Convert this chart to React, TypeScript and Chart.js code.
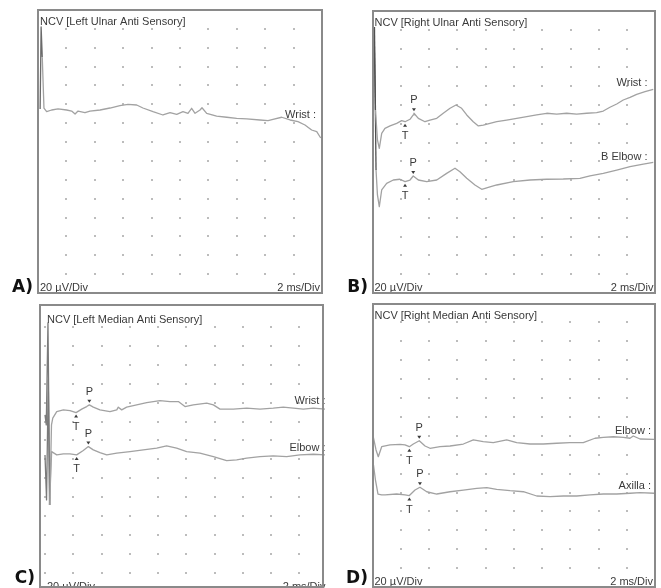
import React, { useEffect, useRef } from "react";
import { Chart, registerables } from "chart.js";

Chart.register(...registerables);

// ---------------- Data ----------------
const X_MAX_MS = 20;
const X_STEP_MS = 2;
const Y_MAX_UV = 300;
const Y_STEP_UV = 20;

const panelTitles = [
  "NCV [Left Ulnar Anti Sensory]",
  "NCV [Right Ulnar Anti Sensory]",
  "NCV [Left Median Anti Sensory]",
  "NCV [Right Median Anti Sensory]",
];
const panelLetters = ["A)", "B)", "C)", "D)"];
const sensitivityLabel = "20 µV/Div";
const sweepLabel = "2 ms/Div";

// Panel A – Left ulnar, Wrist
const aWristMs = [0.15, 0.22, 0.3, 0.42, 0.61, 0.96, 1.41, 2.02, 2.37, 2.61, 2.82, 3.31, 3.66, 4.37, 5.07, 5.77, 6.34, 6.95, 7.39, 8.1, 8.8, 9.3, 9.77, 10.21, 10.56, 10.82, 11.06, 11.41, 11.55, 11.88, 12.58, 13.29, 13.99, 14.7, 15.63, 16.2, 16.55, 17.16, 17.75, 18.31, 18.8, 19.27, 19.63, 19.91];
const aWristUv = [195, 282, 250, 196, 192.2, 194.0, 195.1, 194.0, 192.9, 189.8, 192.9, 191.1, 192.9, 194.0, 196.1, 198.6, 200.0, 199.3, 196.1, 192.2, 188.7, 191.1, 189.4, 192.2, 190.5, 195.8, 190.5, 194.0, 196.4, 190.5, 187.6, 186.3, 185.2, 184.5, 183.4, 182.7, 184.1, 186.3, 183.4, 181.6, 178.1, 172.8, 171.0, 164.3];

// Panel B – Right ulnar, Wrist and B Elbow
const bWristMs = [0.11, 0.21, 0.35, 0.48, 0.65, 0.88, 1.24, 1.71, 2.06, 2.3, 2.65, 2.88, 2.93, 3.24, 3.71, 4.06, 4.54, 5.0, 5.48, 5.9, 6.3, 6.66, 7.12, 7.48, 7.83, 8.3, 8.78, 9.48, 10.19, 10.9, 11.6, 12.31, 13.02, 13.72, 14.43, 15.14, 15.84, 16.31, 16.78, 17.26, 17.72, 18.2, 18.67, 19.26, 19.84];
const bWristUv = [283, 194.7, 162.8, 153.9, 169.9, 175.2, 177.7, 180.5, 183.3, 182.2, 184.8, 189.4, 191.2, 185.8, 182.2, 184.0, 185.8, 191.2, 196.5, 200.0, 196.5, 189.4, 182.2, 177.7, 178.7, 180.5, 182.2, 184.0, 185.8, 187.6, 189.4, 191.2, 190.4, 191.2, 190.4, 191.2, 191.9, 193.6, 197.6, 201.1, 205.3, 208.2, 211.4, 214.1, 216.7];
const bElbowMs = [0.14, 0.25, 0.35, 0.48, 0.65, 1.0, 1.47, 1.94, 2.3, 2.65, 2.88, 3.24, 3.83, 4.54, 5.24, 5.83, 6.18, 6.66, 7.24, 7.72, 8.3, 8.78, 9.95, 11.13, 12.31, 13.48, 14.66, 15.37, 16.31, 17.26, 18.2, 19.14, 19.84];
const bElbowUv = [283, 130.9, 104.3, 91.8, 109.6, 116.7, 120.2, 121.0, 118.4, 120.2, 124.5, 120.2, 118.4, 120.2, 127.3, 132.7, 129.0, 122.0, 114.9, 110.3, 112.8, 114.9, 118.4, 120.2, 121.0, 121.3, 122.0, 124.5, 127.3, 130.8, 134.4, 137.2, 139.0];

// Panel C – Left median, Wrist and Elbow
const cWristMs = [0.0, 0.09, 0.21, 0.34, 0.46, 0.55, 0.83, 1.3, 1.77, 2.2, 2.6, 2.95, 3.14, 3.42, 3.89, 4.6, 5.08, 5.19, 5.43, 5.78, 6.49, 7.2, 8.14, 8.85, 9.44, 9.91, 10.5, 11.45, 11.92, 12.39, 13.33, 14.28, 15.22, 16.16, 16.87, 17.58, 18.29, 19.0, 19.82];
const cWristUv = [187.1, 176.5, 284.6, 91.7, 176.5, 183.6, 190.6, 192.4, 191.7, 189.5, 193.2, 195.9, 197.7, 195.3, 192.4, 190.6, 192.4, 195.3, 192.4, 195.3, 197.7, 200.1, 202.3, 201.2, 201.2, 195.9, 197.7, 199.5, 197.7, 193.2, 193.2, 194.2, 193.2, 194.2, 195.3, 194.2, 193.2, 194.2, 193.2];
const cElbowMs = [0.0, 0.11, 0.23, 0.32, 0.47, 0.83, 1.3, 1.77, 2.24, 2.71, 3.07, 3.42, 3.89, 4.37, 5.08, 6.02, 6.96, 7.91, 8.61, 9.32, 10.03, 10.97, 11.92, 12.86, 13.57, 14.28, 15.22, 16.16, 17.11, 18.05, 19.0, 19.82];
const cElbowUv = [144.7, 97.0, 224.2, 91.7, 148.2, 144.7, 145.8, 145.8, 144.7, 149.3, 153.5, 150.0, 147.1, 144.7, 146.5, 148.2, 150.0, 151.8, 154.2, 151.8, 148.2, 146.5, 142.9, 138.7, 139.4, 141.2, 142.9, 143.6, 142.9, 144.7, 145.4, 144.7];

// Panel D – Right median, Elbow and Axilla
const dElbowMs = [0.04, 0.25, 0.41, 0.65, 1.24, 1.95, 2.3, 2.61, 2.89, 3.31, 3.72, 4.07, 4.78, 5.49, 6.43, 7.14, 7.84, 8.55, 9.5, 10.21, 11.15, 12.09, 13.04, 13.98, 14.92, 15.75, 16.34, 17.05, 17.76, 18.23, 18.46, 18.94, 19.93];
const dElbowUv = [159.8, 145.0, 137.9, 148.5, 150.3, 151.0, 150.3, 148.5, 151.3, 154.8, 149.2, 146.8, 148.5, 149.2, 151.3, 155.6, 153.8, 152.7, 155.6, 152.7, 151.3, 151.3, 152.1, 152.7, 152.7, 157.4, 158.4, 159.0, 158.4, 157.4, 159.8, 156.6, 156.3];
const dAxillaMs = [0.07, 0.21, 0.39, 0.65, 0.89, 1.71, 2.3, 2.61, 3.01, 3.36, 3.84, 4.55, 5.49, 6.43, 7.38, 8.09, 8.79, 9.74, 10.68, 11.63, 12.57, 13.51, 14.46, 15.4, 16.34, 17.29, 18.23, 18.94, 19.93];
const dAxillaUv = [129.1, 113.2, 98.4, 97.4, 97.4, 98.4, 97.4, 96.8, 102.6, 105.5, 100.8, 98.4, 100.8, 102.6, 104.4, 105.1, 103.4, 101.9, 100.8, 96.3, 95.6, 96.3, 96.3, 97.4, 98.4, 98.4, 99.2, 99.8, 99.2];

// Onset (T) and peak (P) markers: [ms, µV]
const bWristT = [2.3, 182.2];
const bWristP = [2.93, 191.2];
const bElbowT = [2.3, 118.4];
const bElbowP = [2.88, 124.5];
const cWristT = [2.2, 189.5];
const cWristP = [3.14, 197.7];
const cElbowT = [2.24, 144.7];
const cElbowP = [3.07, 153.5];
const dElbowT = [2.61, 148.5];
const dElbowP = [3.31, 154.8];
const dAxillaT = [2.61, 96.8];
const dAxillaP = [3.36, 105.5];

// Trace names and the level (µV) at which each name sits
const aTraceNames = ["Wrist :"];
const aNameLevels = [185.5];
const bTraceNames = ["Wrist :", "B Elbow :"];
const bNameLevels = [220.2, 141.5];
const cTraceNames = ["Wrist :", "Elbow :"];
const cNameLevels = [198.8, 148.9];
const dTraceNames = ["Elbow :", "Axilla :"];
const dNameLevels = [161.9, 103.7];

// ---------------- Layout / style ----------------
const CANVAS_W = 661;
const CANVAS_H = 600;
const TEXT_FONT = '11px "Liberation Sans", Arial, Helvetica, sans-serif';
const LETTER_FONT = 'bold 17px "DejaVu Sans", Verdana, sans-serif';
const TEXT_COLOR = "#3a3a3a";
const TRACE_COLOR = "#a2a2a2";
const DOT_COLOR = "#bcbcbc";
const FRAME_COLOR = "#8a8a8a";

type PanelDef = {
  title: string;
  letter: string;
  traces: { ms: number[]; uv: number[] }[];
  names: string[];
  nameLevels: number[];
  markers: { t: number[]; p: number[] }[];
  plot: [number, number, number, number];
  frame: [number, number, number, number];
  letterDy: number;
  labelInset: number;
  zeroColumn: boolean;
  darkUntil: number;
  darkColor: string;
};

const panels: PanelDef[] = [
  {
    title: panelTitles[0], letter: panelLetters[0],
    traces: [{ ms: aWristMs, uv: aWristUv }],
    names: aTraceNames, nameLevels: aNameLevels, markers: [],
    plot: [38, 10, 322, 293], frame: [38, 10, 322, 293],
    letterDy: -1, labelInset: 6, zeroColumn: false, darkUntil: 0.25, darkColor: "#6a6a6a",
  },
  {
    title: panelTitles[1], letter: panelLetters[1],
    traces: [{ ms: bWristMs, uv: bWristUv }, { ms: bElbowMs, uv: bElbowUv }],
    names: bTraceNames, nameLevels: bNameLevels,
    markers: [{ t: bWristT, p: bWristP }, { t: bElbowT, p: bElbowP }],
    plot: [372.5, 11, 655.5, 293], frame: [373, 11, 655, 293],
    letterDy: -1, labelInset: 8, zeroColumn: false, darkUntil: 0.2, darkColor: "#505050",
  },
  {
    title: panelTitles[2], letter: panelLetters[2],
    traces: [{ ms: cWristMs, uv: cWristUv }, { ms: cElbowMs, uv: cElbowUv }],
    names: cTraceNames, nameLevels: cNameLevels,
    markers: [{ t: cWristT, p: cWristP }, { t: cElbowT, p: cElbowP }],
    plot: [45, 308.3, 327.5, 591.5], frame: [40, 305, 323, 587],
    letterDy: -4, labelInset: 2, zeroColumn: true, darkUntil: 0.3, darkColor: "#7a7a7a",
  },
  {
    title: panelTitles[3], letter: panelLetters[3],
    traces: [{ ms: dElbowMs, uv: dElbowUv }, { ms: dAxillaMs, uv: dAxillaUv }],
    names: dTraceNames, nameLevels: dNameLevels,
    markers: [{ t: dElbowT, p: dElbowP }, { t: dAxillaT, p: dAxillaP }],
    plot: [372.5, 303.5, 655, 587], frame: [373, 304, 655, 587],
    letterDy: -4, labelInset: 4, zeroColumn: false, darkUntil: 0, darkColor: "#505050",
  },
];

function triangle(ctx: CanvasRenderingContext2D, x: number, y: number, down: boolean) {
  ctx.beginPath();
  if (down) {
    ctx.moveTo(x, y - 2);
    ctx.lineTo(x - 2, y - 5);
    ctx.lineTo(x + 2, y - 5);
  } else {
    ctx.moveTo(x, y + 2);
    ctx.lineTo(x - 2, y + 5);
    ctx.lineTo(x + 2, y + 5);
  }
  ctx.closePath();
  ctx.fill();
}

const ncvPlugin = {
  id: "ncv",
  beforeDatasetsDraw(chart: any, _args: any, o: any) {
    const { ctx } = chart;
    const xs = chart.scales.x;
    const ys = chart.scales.y;
    ctx.save();
    ctx.fillStyle = DOT_COLOR;
    const start = o.zeroColumn ? 0 : X_STEP_MS;
    for (let v = start; v < X_MAX_MS - 1e-6; v += X_STEP_MS) {
      for (let w = Y_STEP_UV; w < Y_MAX_UV - 1e-6; w += Y_STEP_UV) {
        const px = Math.round(xs.getPixelForValue(v));
        const py = Math.round(ys.getPixelForValue(w));
        ctx.fillRect(px - 1, py - 1, 2, 2);
      }
    }
    ctx.restore();
  },
  afterDatasetsDraw(chart: any, _args: any, o: any) {
    const { ctx, chartArea: ca } = chart;
    const xs = chart.scales.x;
    const ys = chart.scales.y;
    ctx.save();
    ctx.fillStyle = TEXT_COLOR;
    ctx.font = TEXT_FONT;
    ctx.textBaseline = "alphabetic";

    // T / P markers
    ctx.textAlign = "center";
    (o.markers || []).forEach((m: any) => {
      const px = xs.getPixelForValue(m.p[0]);
      const py = ys.getPixelForValue(m.p[1]);
      triangle(ctx, px, py, true);
      ctx.fillText("P", px, py - 10);
      const tx = xs.getPixelForValue(m.t[0]);
      const ty = ys.getPixelForValue(m.t[1]);
      triangle(ctx, tx, ty, false);
      ctx.fillText("T", tx, ty + 17);
    });

    // trace names
    ctx.textAlign = "right";
    (o.names || []).forEach((n: string, i: number) => {
      ctx.fillText(n, ca.right - o.labelInset, ys.getPixelForValue(o.nameLevels[i]));
    });

    // title + scale texts
    ctx.textAlign = "left";
    ctx.fillText(o.title, ca.left + 2, ca.top + 15);
    ctx.fillText(sensitivityLabel, ca.left + 2, ca.bottom - 2);
    ctx.textAlign = "right";
    ctx.fillText(sweepLabel, ca.right - 2, ca.bottom - 2);

    // frame
    const f = o.frame;
    ctx.strokeStyle = FRAME_COLOR;
    ctx.lineWidth = 2;
    ctx.strokeRect(f[0], f[1], f[2] - f[0], f[3] - f[1]);

    // panel letter
    ctx.fillStyle = "#111";
    ctx.font = LETTER_FONT;
    ctx.textAlign = "right";
    ctx.fillText(o.letter, f[0] - 5, f[3] + o.letterDy);
    ctx.restore();
  },
};

function Panel({ def }: { def: PanelDef }) {
  const ref = useRef<HTMLCanvasElement>(null);
  useEffect(() => {
    const [l, t, r, b] = def.plot;
    const chart = new Chart(ref.current as HTMLCanvasElement, {
      type: "line",
      data: {
        datasets: def.traces.map((tr) => ({
          data: tr.ms.map((x, i) => ({ x, y: tr.uv[i] })),
          borderColor: TRACE_COLOR,
          borderWidth: 1.3,
          pointRadius: 0,
          tension: 0,
          fill: false,
          borderJoinStyle: "round" as const,
          clip: false as any,
          segment: {
            borderColor: (c: any) => (c.p0.parsed.x < def.darkUntil ? def.darkColor : undefined),
          },
        })),
      },
      options: {
        animation: false,
        responsive: false,
        devicePixelRatio: 1,
        events: [],
        layout: { padding: { left: l, top: t, right: CANVAS_W - r, bottom: CANVAS_H - b } },
        scales: {
          x: { type: "linear", min: 0, max: X_MAX_MS, display: false, ticks: { stepSize: X_STEP_MS } },
          y: { type: "linear", min: 0, max: Y_MAX_UV, display: false, ticks: { stepSize: Y_STEP_UV } },
        },
        plugins: {
          legend: { display: false },
          tooltip: { enabled: false },
          ncv: {
            title: def.title,
            letter: def.letter,
            names: def.names,
            nameLevels: def.nameLevels,
            markers: def.markers,
            frame: def.frame,
            letterDy: def.letterDy,
            labelInset: def.labelInset,
            zeroColumn: def.zeroColumn,
          },
        } as any,
      },
      plugins: [ncvPlugin as any],
    });
    return () => chart.destroy();
  }, [def]);
  return (
    <canvas
      ref={ref}
      width={CANVAS_W}
      height={CANVAS_H}
      style={{ position: "absolute", left: 0, top: 0, width: CANVAS_W, height: CANVAS_H }}
    />
  );
}

export default function App() {
  return (
    <div
      style={{
        position: "absolute",
        left: 0,
        top: 0,
        width: CANVAS_W,
        height: 588,
        overflow: "hidden",
        background: "#ffffff",
      }}
    >
      {panels.map((p, i) => (
        <Panel key={i} def={p} />
      ))}
    </div>
  );
}
